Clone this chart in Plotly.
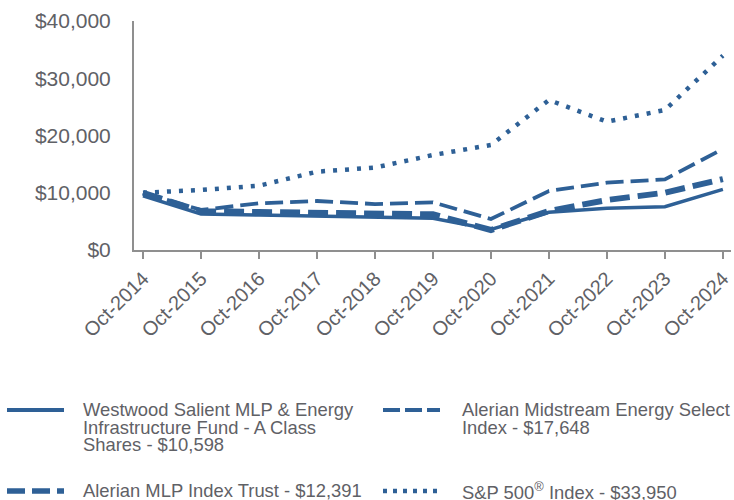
import plotly.graph_objects as go

years = ["Oct-2014", "Oct-2015", "Oct-2016", "Oct-2017", "Oct-2018", "Oct-2019",
         "Oct-2020", "Oct-2021", "Oct-2022", "Oct-2023", "Oct-2024"]
fund = [9450, 6300, 6100, 5950, 5750, 5530, 3600, 6580, 7280, 7560, 10598]
midstream = [10000, 7000, 8150, 8560, 8030, 8330, 5410, 10300, 11760, 12340, 17648]
mlp_trust = [10000, 6750, 6640, 6580, 6520, 6230, 3490, 6810, 8730, 10010, 12391]
sp500 = [10000, 10480, 11230, 13680, 14400, 16590, 18340, 26200, 22410, 24450, 33950]

y_ticks = [0, 10000, 20000, 30000, 40000]
y_tick_labels = ["$0", "$10,000", "$20,000", "$30,000", "$40,000"]

series_names = [
    "Westwood Salient MLP & Energy Infrastructure Fund - A Class Shares - $10,598",
    "Alerian Midstream Energy Select Index - $17,648",
    "Alerian MLP Index Trust - $12,391",
    "S&P 500® Index - $33,950",
]
legend_lines = [
    ["Westwood Salient MLP & Energy", "Infrastructure Fund - A Class", "Shares - $10,598"],
    ["Alerian Midstream Energy Select", "Index - $17,648"],
    ["Alerian MLP Index Trust - $12,391"],
    ["S&P 500<sup>®</sup> Index - $33,950"],
]

COLOR = "#2E6096"
TEXT = "#5F6166"
AXIS = "#8F8F8F"
FONT = "Liberation Sans, Arial, sans-serif"

styles = [
    dict(width=3.5, dash="solid"),
    dict(width=3.8, dash="18px,7px"),
    dict(width=6, dash="20px,8px"),
    dict(width=4.5, dash="4px,8px"),
]
legend_styles = [
    dict(width=4, dash="solid"),
    dict(width=4, dash="17px,5px"),
    dict(width=5.5, dash="18px,7px"),
    dict(width=4.5, dash="4px,6px"),
]
data = [fund, midstream, mlp_trust, sp500]

W, H = 734, 500
L, R, T, B = 134, 3, 21, 250
pw = W - L - R
ph = H - T - B

x_idx = list(range(len(years)))

fig = go.Figure()
for vals, name, st in zip(data, series_names, styles):
    fig.add_trace(go.Scatter(
        x=x_idx, y=vals, mode="lines", name=name,
        line=dict(color=COLOR, width=st["width"], dash=st["dash"]),
        showlegend=False,
    ))


def px_x(p):
    return (p - L) / pw


def px_y(p):
    return (H - B - p) / ph


# legend built from annotations and shapes
legend_pos = [(7, 410), (383, 410), (7, 491), (383, 491)]
text_x = [81, 460, 81, 460]
legend_len = 57
shapes = []
annotations = []
for (lx, ly), tx, lines, st in zip(legend_pos, text_x, legend_lines, legend_styles):
    shapes.append(dict(
        type="line", xref="paper", yref="paper",
        x0=px_x(lx), x1=px_x(lx + legend_len), y0=px_y(ly), y1=px_y(ly),
        line=dict(color=COLOR, width=st["width"], dash=st["dash"]),
    ))
    for i, t in enumerate(lines):
        annotations.append(dict(
            xref="paper", yref="paper", x=px_x(tx), y=px_y(ly + 17 * i),
            xanchor="left", yanchor="middle", showarrow=False, text=t,
            font=dict(family=FONT, size=18.4, color=TEXT),
        ))

fig.update_layout(
    width=W, height=H,
    margin=dict(l=L, r=R, t=T, b=B, pad=0),
    paper_bgcolor="white", plot_bgcolor="white",
    font=dict(family=FONT, size=20, color=TEXT),
    shapes=shapes,
    annotations=annotations,
    xaxis=dict(
        range=[-0.155, 10.14], automargin=False,
        tickmode="array", tickvals=x_idx, ticktext=years,
        tickangle=-45, ticks="outside", ticklen=7, tickwidth=2, tickcolor=AXIS,
        showline=True, linecolor=AXIS, linewidth=2,
        showgrid=False, zeroline=False,
        tickfont=dict(family=FONT, size=20, color=TEXT),
    ),
    yaxis=dict(
        range=[0, 40000], automargin=False,
        tickmode="array", tickvals=y_ticks, ticktext=y_tick_labels,
        ticks="", showline=True, linecolor=AXIS, linewidth=2,
        showgrid=False, zeroline=False,
        ticklabelstandoff=17,
        tickfont=dict(family=FONT, size=21, color=TEXT),
    ),
)

fig.write_html(
    "out.html",
    config={"displayModeBar": False},
    post_script="document.body.style.margin='0';document.body.style.overflow='hidden';",
)
